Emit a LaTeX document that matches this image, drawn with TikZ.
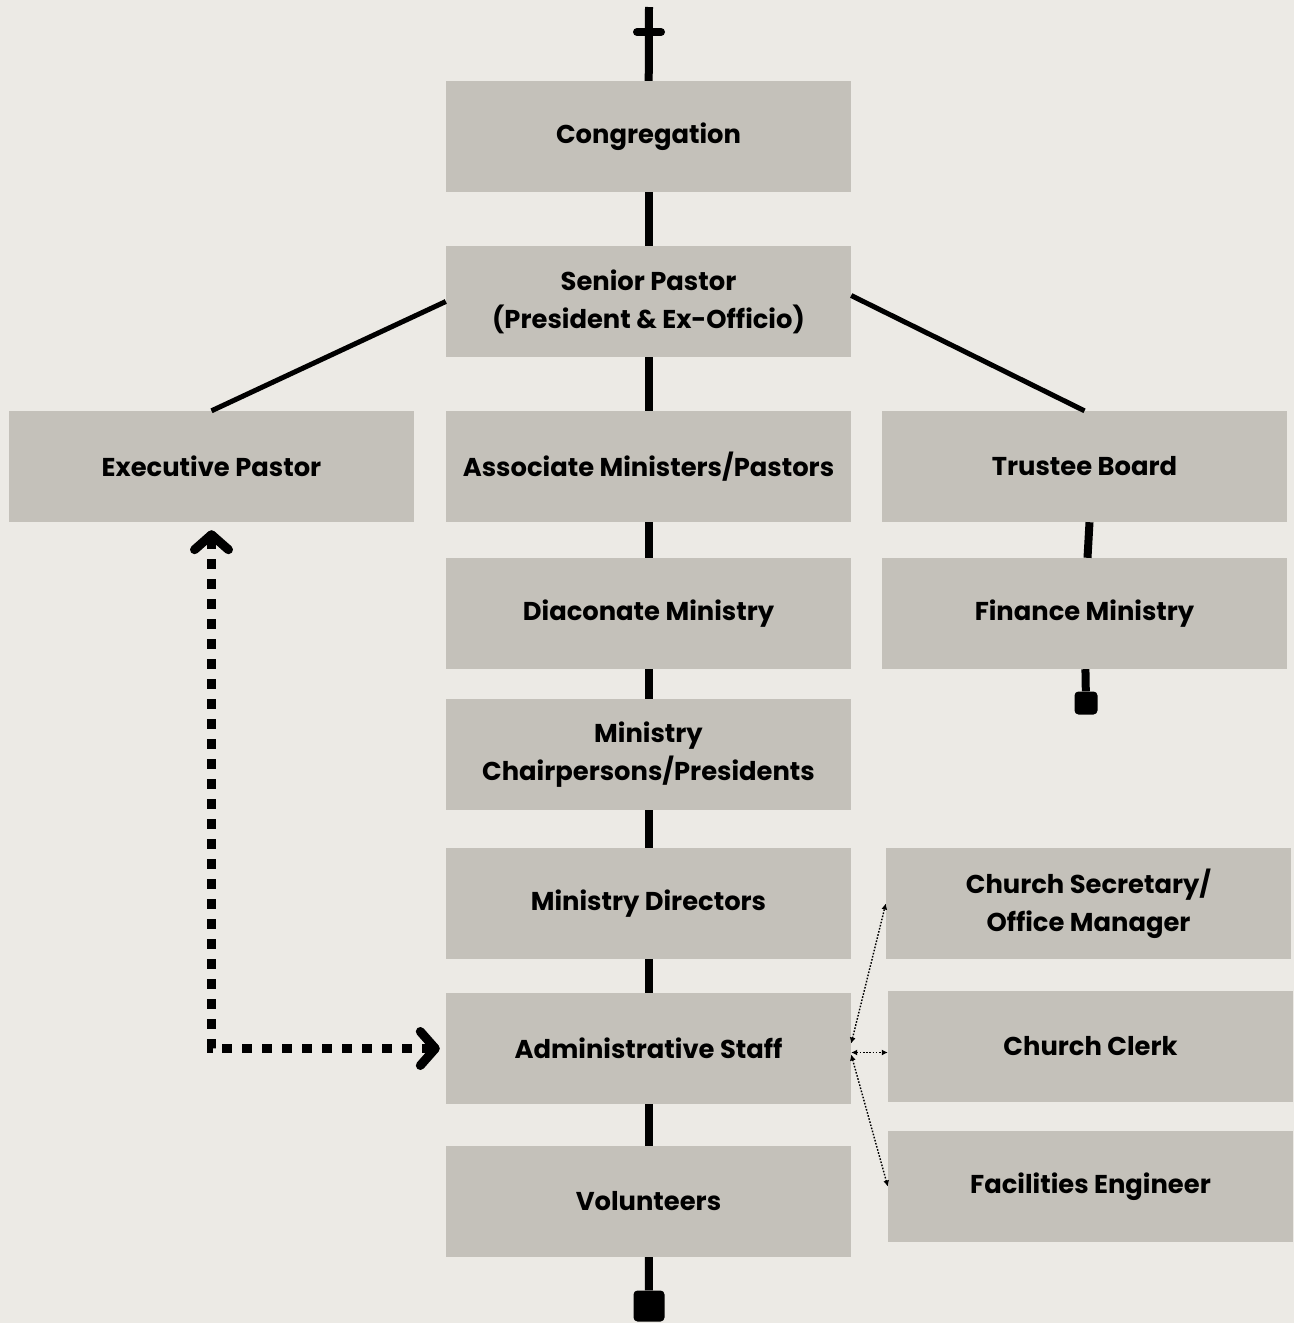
\documentclass[tikz,border=0pt]{standalone}
\usepackage{fontspec}
\setmainfont{Poppins}
\usepackage{xcolor}
\usetikzlibrary{arrows.meta}
\definecolor{bgGrey}{HTML}{ECEAE5}
\definecolor{boxGrey}{HTML}{C4C1BA}
\newcommand{\boxWidth}{405}
\newcommand{\boxHeight}{111}
\newcommand{\spineWidth}{8}
\newcommand{\armWidth}{5}
\newcommand{\chartFont}{\fontsize{25.8}{38}\selectfont\bfseries}
\newcommand{\centerColumn}{cong/senior, senior/assoc, assoc/diacon, diacon/chairs, chairs/directors, directors/admin, admin/volunteers, volunteers/endMain}

\tikzset{
	roleBox/.style={fill=boxGrey, minimum width=\boxWidth, minimum height=\boxHeight, inner sep=0pt, align=center, font=\chartFont},
	spineLine/.style={line width=\spineWidth},
	armLine/.style={line width=\armWidth},
	endBlock/.style={fill=black, rounded corners=4pt, inner sep=0pt},
	reportLink/.style={line width=9pt, dash pattern=on 10pt off 10pt, {Straight Barb[length=15pt, width=34pt, round]}-{Straight Barb[length=15pt, width=34pt, round]}},
	staffLink/.style={line width=1.4pt, dash pattern=on 1.6pt off 1.6pt, {Latex[length=6pt, width=6pt]}-{Latex[length=6pt, width=6pt]}}
}

\begin{document}
\begin{tikzpicture}[x=1pt, y=-1pt]
	\fill[bgGrey] (0,0) rectangle (1294,1323);
	\useasboundingbox (0,0) rectangle (1294,1323);

	% center column
	\node[roleBox] (cong) at (648.5,136.5) {Congregation};
	\node[roleBox] (senior) at (648.5,301.5) {Senior Pastor\\(President \& Ex-Officio)};
	\node[roleBox] (assoc) at (648.5,466.5) {Associate Ministers/Pastors};
	\node[roleBox] (diacon) at (648.5,613.5) {Diaconate Ministry};
	\node[roleBox] (chairs) at (648.5,754.5) {Ministry\\Chairpersons/Presidents};
	\node[roleBox] (directors) at (648.5,903.5) {Ministry Directors};
	\node[roleBox] (admin) at (648.5,1048.5) {Administrative Staff};
	\node[roleBox] (volunteers) at (648.5,1201.5) {Volunteers};

	% side columns
	\node[roleBox] (exec) at (211.5,466.5) {Executive Pastor};
	\node[roleBox] (trustee) at (1084.5,466.5) {Trustee Board};
	\node[roleBox] (finance) at (1084.5,613.5) {Finance Ministry};
	\node[roleBox] (secretary) at (1088.5,903.5) {Church Secretary/\\Office Manager};
	\node[roleBox] (clerk) at (1090.5,1046.5) {Church Clerk};
	\node[roleBox] (facilities) at (1090.5,1186.5) {Facilities Engineer};

	% cross on top, blocks at the ends
	\coordinate (top) at (649,7);
	\coordinate (crossLeft) at (637,32);
	\coordinate (crossRight) at (661,32);
	\node[endBlock, minimum size=31pt] (endMain) at (649,1306) {};
	\node[endBlock, minimum size=23pt] (endFinance) at (1086,703) {};

	\draw[spineLine] (top) -- (cong);
	\draw[spineLine, line cap=round] (crossLeft) -- (crossRight);
	\foreach \upper/\lower in \centerColumn
	{
		\draw[spineLine] (\upper) -- (\lower);
	}
	\draw[spineLine] ([xshift=5pt]trustee.south) -- ([xshift=3pt]finance.north);
	\draw[spineLine] (finance) -- (endFinance);

	\draw[armLine] (senior.west) -- (exec.north);
	\draw[armLine] ([yshift=6pt]senior.east) -- (trustee.north);

	\draw[reportLink] ([yshift=-8pt]exec.south) |- ([xshift=-6pt]admin.west);

	\draw[staffLink] ([yshift=5pt]admin.east) -- (secretary.west);
	\draw[staffLink] ([yshift=-4pt]admin.east) -- ([yshift=-4pt]admin.east -| clerk.west);
	\draw[staffLink] ([yshift=-6pt]admin.east) -- (facilities.west);
\end{tikzpicture}
\end{document}
